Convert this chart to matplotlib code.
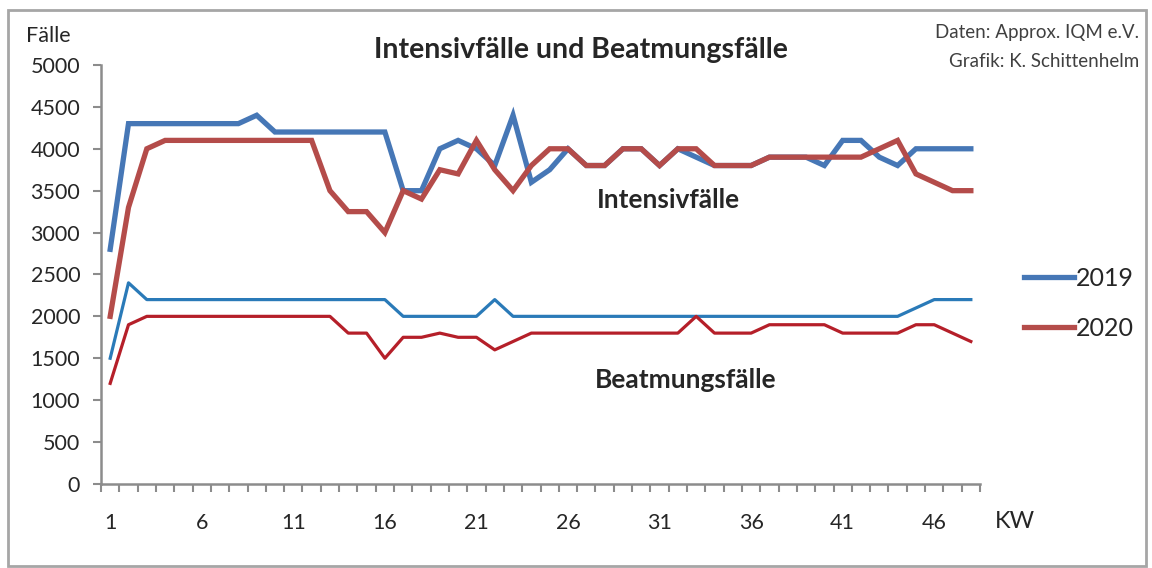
import matplotlib.pyplot as plt
from matplotlib.patches import Rectangle

weeks = list(range(1, 49))

# Intensivfälle
intensiv_2019 = [2800, 4300, 4300, 4300, 4300, 4300, 4300, 4300, 4400, 4200,
                 4200, 4200, 4200, 4200, 4200, 4200, 3500, 3500, 4000, 4100,
                 4000, 3800, 4400, 3600, 3750, 4000, 3800, 3800, 4000, 4000,
                 3800, 4000, 3900, 3800, 3800, 3800, 3900, 3900, 3900, 3800,
                 4100, 4100, 3900, 3800, 4000, 4000, 4000, 4000]
intensiv_2020 = [2000, 3300, 4000, 4100, 4100, 4100, 4100, 4100, 4100, 4100,
                 4100, 4100, 3500, 3250, 3250, 3000, 3500, 3400, 3750, 3700,
                 4100, 3750, 3500, 3800, 4000, 4000, 3800, 3800, 4000, 4000,
                 3800, 4000, 4000, 3800, 3800, 3800, 3900, 3900, 3900, 3900,
                 3900, 3900, 4000, 4100, 3700, 3600, 3500, 3500]

# Beatmungsfälle
beatmung_2019 = [1500, 2400, 2200, 2200, 2200, 2200, 2200, 2200, 2200, 2200,
                 2200, 2200, 2200, 2200, 2200, 2200, 2000, 2000, 2000, 2000,
                 2000, 2200, 2000, 2000, 2000, 2000, 2000, 2000, 2000, 2000,
                 2000, 2000, 2000, 2000, 2000, 2000, 2000, 2000, 2000, 2000,
                 2000, 2000, 2000, 2000, 2100, 2200, 2200, 2200]
beatmung_2020 = [1200, 1900, 2000, 2000, 2000, 2000, 2000, 2000, 2000, 2000,
                 2000, 2000, 2000, 1800, 1800, 1500, 1750, 1750, 1800, 1750,
                 1750, 1600, 1700, 1800, 1800, 1800, 1800, 1800, 1800, 1800,
                 1800, 1800, 2000, 1800, 1800, 1800, 1900, 1900, 1900, 1900,
                 1800, 1800, 1800, 1800, 1900, 1900, 1800, 1700]

tick_weeks = [1, 6, 11, 16, 21, 26, 31, 36, 41, 46]
y_ticks = [0, 500, 1000, 1500, 2000, 2500, 3000, 3500, 4000, 4500, 5000]

plt.rcParams["font.family"] = ["Lato", "DejaVu Sans"]

fig = plt.figure(figsize=(11.52, 5.68), dpi=100)
ax = fig.add_axes([0.0877, 0.148, 0.7630, 0.7376])

axis_grey = "#8c8c8c"
text_col = "#262626"

ax.plot(weeks, intensiv_2019, color="#4677b6", lw=3.8, solid_joinstyle="miter", label="2019")
ax.plot(weeks, intensiv_2020, color="#b44c4a", lw=3.8, solid_joinstyle="miter", label="2020")
ax.plot(weeks, beatmung_2019, color="#2a7ab8", lw=2.3)
ax.plot(weeks, beatmung_2020, color="#b51f29", lw=2.3)

ax.set_xlim(0.5, 48.5)
ax.set_ylim(0, 5000)
ax.set_yticks(y_ticks)
ax.set_xticks(tick_weeks)
ax.set_xticks([w - 0.5 for w in weeks] + [48.5], minor=True)
ax.tick_params(axis="x", which="major", length=0, pad=21, labelsize=15.5, labelcolor=text_col)
ax.tick_params(axis="x", which="minor", length=6, width=1.5, color=axis_grey, direction="out")
ax.tick_params(axis="y", length=6, width=1.5, color=axis_grey, pad=9, labelsize=15.5, labelcolor=text_col)

for s in ["top", "right"]:
    ax.spines[s].set_visible(False)
for s in ["left", "bottom"]:
    ax.spines[s].set_color(axis_grey)
    ax.spines[s].set_linewidth(1.8)

fig.text(0.504, 0.912, "Intensivfälle und Beatmungsfälle", ha="center", va="center",
         fontsize=20.5, fontweight="bold", color=text_col)
fig.text(0.023, 0.936, "Fälle", ha="left", va="center", fontsize=15.5, color=text_col)
fig.text(0.864, 0.081, "KW", ha="left", va="center", fontsize=17, color=text_col)
fig.text(0.989, 0.942, "Daten: Approx. IQM e.V.", ha="right", va="center", fontsize=13.5, color="#404040")
fig.text(0.989, 0.891, "Grafik: K. Schittenhelm", ha="right", va="center", fontsize=13.5, color="#404040")
fig.text(0.580, 0.648, "Intensivfälle", ha="center", va="center", fontsize=19, fontweight="bold", color=text_col)
fig.text(0.595, 0.331, "Beatmungsfälle", ha="center", va="center", fontsize=19, fontweight="bold", color=text_col)

fig.legend(loc="center left", bbox_to_anchor=(0.869, 0.466), frameon=False, fontsize=18,
           handlelength=2.0, handletextpad=0.1, labelspacing=1.1, labelcolor=text_col)

fig.patches.append(Rectangle((0.007, 0.003), 0.988, 0.980, transform=fig.transFigure,
                             fill=False, edgecolor="#a6a6a6", lw=2))

fig.savefig("out.png", dpi=100)
